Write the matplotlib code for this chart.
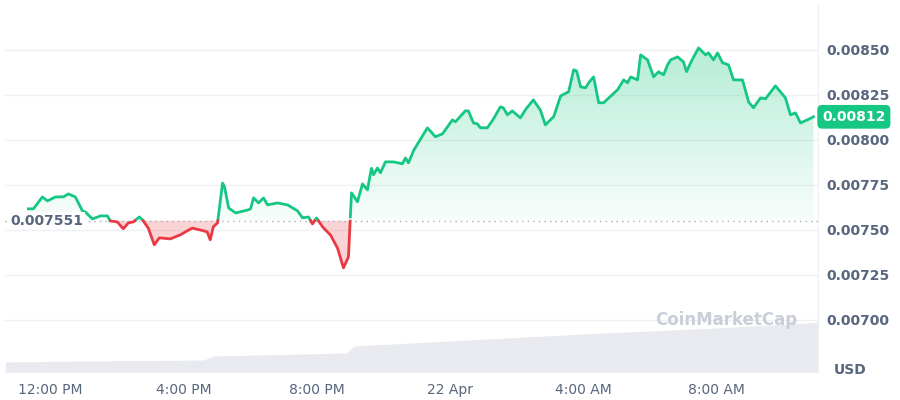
import numpy as np
import matplotlib
matplotlib.use("Agg")
import matplotlib.pyplot as plt
from matplotlib.colors import LinearSegmentedColormap
from matplotlib.patches import Polygon

# hours since 12:00 PM (Apr 21)
hours = [-0.66,-0.51,-0.24,-0.09,0.15,0.39,0.54,0.75,0.96,1.05,1.26,1.50,1.71,1.80,2.01,2.19,2.34,2.49,2.67,2.79,2.94,3.12,3.27,3.60,3.90,4.05,4.26,4.50,4.71,4.80,4.89,5.02,5.17,5.23,5.35,5.56,5.92,6.01,6.10,6.25,6.40,6.52,6.82,7.12,7.42,7.57,7.75,7.87,7.99,8.17,8.41,8.62,8.80,8.95,9.04,9.22,9.37,9.52,9.64,9.70,9.82,9.91,10.06,10.30,10.57,10.66,10.75,10.90,11.17,11.32,11.56,11.77,12.07,12.16,12.46,12.55,12.70,12.82,12.91,13.12,13.27,13.51,13.60,13.72,13.87,14.11,14.26,14.50,14.71,14.86,15.11,15.32,15.56,15.71,15.80,15.92,16.07,16.16,16.31,16.46,16.61,17.03,17.21,17.33,17.42,17.63,17.72,17.93,18.11,18.26,18.41,18.53,18.62,18.83,19.01,19.10,19.22,19.46,19.67,19.76,19.91,20.03,20.18,20.36,20.51,20.78,20.96,21.11,21.32,21.47,21.77,22.07,22.22,22.37,22.52,22.73,22.91]
prices = [0.007617,0.007617,0.007683,0.007661,0.007683,0.007683,0.0077,0.007683,0.007606,0.0076,0.007561,0.007578,0.007578,0.00755,0.007544,0.007506,0.007539,0.007544,0.007572,0.00755,0.00751,0.007417,0.007456,0.00745,0.007472,0.007489,0.00751,0.0075,0.007489,0.007444,0.007517,0.007539,0.007761,0.007739,0.007622,0.007594,0.00761,0.007617,0.007678,0.00765,0.007678,0.007639,0.00765,0.007639,0.007606,0.007567,0.007572,0.007533,0.007567,0.007517,0.007472,0.0074,0.007289,0.00735,0.007706,0.007656,0.007756,0.007722,0.007844,0.007806,0.007844,0.007817,0.007878,0.007878,0.007867,0.0079,0.007872,0.007939,0.008022,0.008067,0.008017,0.008033,0.008111,0.0081,0.008161,0.008161,0.008094,0.008089,0.008067,0.008067,0.008106,0.008183,0.008178,0.008139,0.008161,0.008122,0.008167,0.008222,0.008167,0.008083,0.008128,0.008244,0.008267,0.008389,0.008383,0.008294,0.008289,0.008317,0.00835,0.008206,0.008206,0.008278,0.008333,0.008317,0.00835,0.008333,0.008472,0.008444,0.00835,0.008378,0.008361,0.008417,0.008444,0.008461,0.008433,0.008378,0.008428,0.008511,0.008472,0.008483,0.008444,0.008483,0.008428,0.008417,0.008333,0.008333,0.008211,0.008178,0.008233,0.008228,0.0083,0.008233,0.008139,0.00815,0.008094,0.008111,0.008128]
base_price = 0.007551
last_price_label = "0.00812"

vol_hours = [-1.35, 1.0, 4.6, 4.9, 8.9, 9.1, 12.0, 16.0, 20.0, 23.2]
vol_values = [10, 11, 12, 16, 19, 26, 31, 38, 44, 50]

yticks = [0.00700, 0.00725, 0.00750, 0.00775, 0.00800, 0.00825, 0.00850]
xtick_pos = [0, 4, 8, 12, 16, 20]
xtick_labels = ["12:00 PM", "4:00 PM", "8:00 PM", "22 Apr", "4:00 AM", "8:00 AM"]

GREEN = "#16c784"
RED = "#ea3943"

fig = plt.figure(figsize=(9, 4), dpi=100)
ax = fig.add_axes([0.006, 0.07, 0.903, 0.918])
xmin, xmax = -1.35, 23.05
ymin, ymax = 0.006711, 0.00875
ax.set_xlim(xmin, xmax)
ax.set_ylim(ymin, ymax)

# volume
axv = ax.twinx()
axv.set_ylim(0, 367)
axv.fill_between(vol_hours, 0, vol_values, color="#e8eaef", lw=0)
axv.set_axis_off()
ax.set_zorder(axv.get_zorder() + 1)
ax.patch.set_visible(False)

for t in yticks:
    ax.axhline(t, color="#eff0f3", lw=1, zorder=0)

x = np.array(hours); y = np.array(prices)
xf = np.linspace(x[0], x[-1], 4000)
yf = np.interp(xf, x, y)

# green gradient fill clipped to area above base
upper = np.maximum(yf, base_price)
verts = np.column_stack([np.concatenate([xf, xf[::-1]]),
                         np.concatenate([upper, np.full_like(xf, base_price)])])
clip = Polygon(verts, closed=True, transform=ax.transData, fc="none", ec="none")
ax.add_patch(clip)
cmap = LinearSegmentedColormap.from_list("g", [(0.086, 0.78, 0.52, 0.03), (0.086, 0.78, 0.52, 0.32)])
grad = np.linspace(0, 1, 256).reshape(-1, 1)
im = ax.imshow(grad, extent=[xmin, xmax, base_price, 0.00852], origin="lower", aspect="auto", cmap=cmap, zorder=1)
im.set_clip_path(clip)
ax.set_xlim(xmin, xmax)
ax.set_ylim(ymin, ymax)
ax.fill_between(xf, base_price, yf, where=yf < base_price, color=RED, alpha=0.22, lw=0, interpolate=True, zorder=1)

ya = np.ma.masked_where(yf < base_price, yf)
yb = np.ma.masked_where(yf >= base_price, yf)
ax.plot(xf, ya, color=GREEN, lw=2, zorder=3)
ax.plot(xf, yb, color=RED, lw=2, zorder=3)

ax.axhline(base_price, color="#a6b0c3", lw=1, ls=(0, (1, 3)), zorder=2)
ax.text(-1.2, base_price, "0.007551", fontsize=10, fontweight="bold", color="#58667e",
        va="center", ha="left", bbox=dict(fc="white", ec="none", pad=1), zorder=4)

ax.yaxis.tick_right()
ax.set_yticks(yticks)
ax.set_yticklabels([f"{t:.5f}" for t in yticks], fontsize=10, fontweight="bold", color="#58667e")
ax.set_xticks(xtick_pos)
ax.set_xticklabels(xtick_labels, fontsize=10, color="#58667e")
ax.tick_params(length=0, pad=8)
ax.tick_params(axis="y", pad=6)
for s in ax.spines.values():
    s.set_visible(False)
ax.spines["right"].set_visible(True)
ax.spines["right"].set_color("#eff0f3")
ax.spines["bottom"].set_visible(True)
ax.spines["bottom"].set_color("#eff0f3")

ax.text(1.005, prices[-1], last_price_label, transform=ax.get_yaxis_transform(), fontsize=10,
        fontweight="bold", color="white", va="center", ha="left",
        bbox=dict(boxstyle="round,pad=0.35", fc=GREEN, ec="none"), zorder=5)
fig.text(0.926, 0.075, "USD", fontsize=10, fontweight="bold", color="#58667e", va="center")
ax.text(0.80, 0.142, "CoinMarketCap", transform=ax.transAxes, fontsize=12, fontweight="bold",
        color="#c9ced8", va="center", ha="left")

fig.savefig("out.png", dpi=100, facecolor="white")
